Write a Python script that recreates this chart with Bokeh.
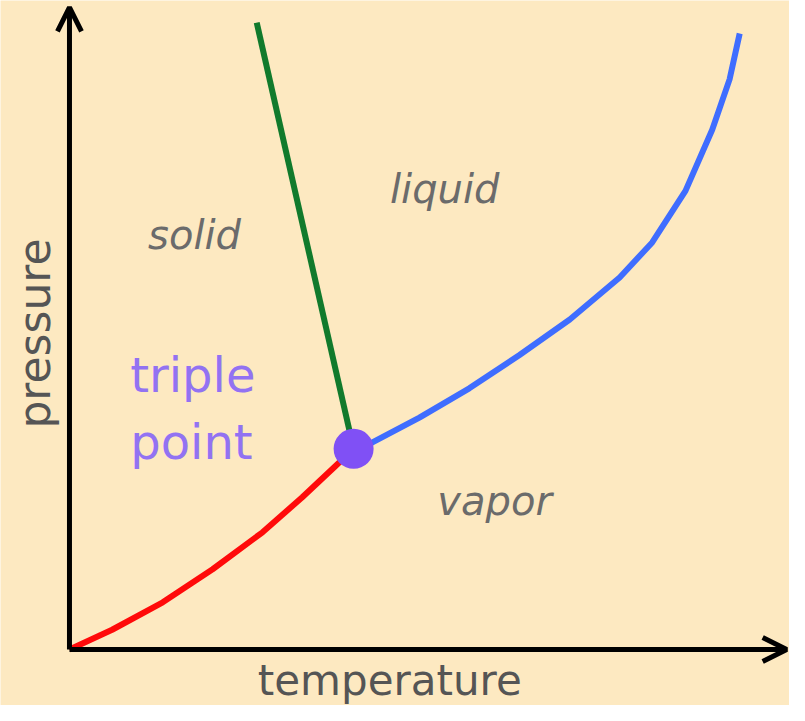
from bokeh.plotting import figure
from bokeh.models import Range1d, Arrow, OpenHead, Label
from bokeh.embed import file_html
from bokeh.resources import INLINE

# --- data (abstract temperature / pressure units) ---
triple_T = [39.3]
triple_P = [31.5]

# solid-vapor boundary (red)
sub_T = [0.0, 5.9, 12.9, 19.8, 26.7, 32.2, 36.8, 39.3]
sub_P = [0.0, 3.1, 7.4, 12.6, 18.4, 23.9, 28.8, 31.5]

# solid-liquid boundary (green)
melt_T = [39.3, 25.9]
melt_P = [31.5, 98.4]

# liquid-vapor boundary (blue)
vap_T = [39.3, 41.9, 48.4, 55.3, 62.2, 69.2, 76.1, 80.6, 85.2, 88.9, 91.3, 92.7]
vap_P = [31.5, 32.5, 36.4, 41.0, 46.2, 51.8, 58.4, 63.9, 72.0, 81.6, 89.5, 96.7]

phase_names = ["solid", "liquid", "vapor"]
phase_T = [17.3, 51.9, 58.8]
phase_P = [65.0, 72.3, 23.3]

x_label = "temperature"
y_label = "pressure"
tp_lines = ["triple", "point"]
tp_T = [8.4, 8.4]
tp_P = [43.1, 32.5]

BG = "#fde9c1"
FONT = "DejaVu Sans"

p = figure(width=789, height=705, output_backend="svg", toolbar_location=None,
           x_range=Range1d(-9.54, 99.59), y_range=Range1d(-8.79, 101.88),
           min_border=0)
p.axis.visible = False
p.grid.visible = False
p.outline_line_color = None
p.background_fill_color = BG
p.border_fill_color = BG

# axes drawn as arrows
p.add_layout(Arrow(end=OpenHead(size=24, line_width=5, line_color="black"),
                   x_start=0, y_start=0, x_end=0, y_end=100.8,
                   line_width=5, line_color="black"))
p.add_layout(Arrow(end=OpenHead(size=24, line_width=5, line_color="black"),
                   x_start=0, y_start=0, x_end=99.2, y_end=0,
                   line_width=5, line_color="black"))

p.line(sub_T, sub_P, line_color="#ff0a0a", line_width=6, line_join="round")
p.line(melt_T, melt_P, line_color="#117a2c", line_width=6)
p.line(vap_T, vap_P, line_color="#3f6dff", line_width=6, line_join="round")
p.scatter(triple_T, triple_P, size=40, fill_color="#8050f5", line_color=None)

for name, t, pr in zip(phase_names, phase_T, phase_P):
    p.add_layout(Label(x=t, y=pr, text=name, text_align="center",
                       text_baseline="middle", text_font=FONT,
                       text_font_style="italic", text_font_size="40px",
                       text_color="#6b6b6b"))

for line, t, pr in zip(tp_lines, tp_T, tp_P):
    p.add_layout(Label(x=t, y=pr, text=line, text_align="left",
                       text_baseline="middle", text_font=FONT,
                       text_font_size="48px", text_color="#9272f2"))

p.add_layout(Label(x=44.3, y=-4.87, text=x_label, text_align="center",
                   text_baseline="middle", text_font=FONT,
                   text_font_size="42px", text_color="#555555"))
p.add_layout(Label(x=-4.77, y=49.6, text=y_label, text_align="center",
                   text_baseline="middle", text_font=FONT,
                   text_font_size="44px", text_color="#555555",
                   angle=1.5708))

open("out.html", "w").write(file_html(p, INLINE))
